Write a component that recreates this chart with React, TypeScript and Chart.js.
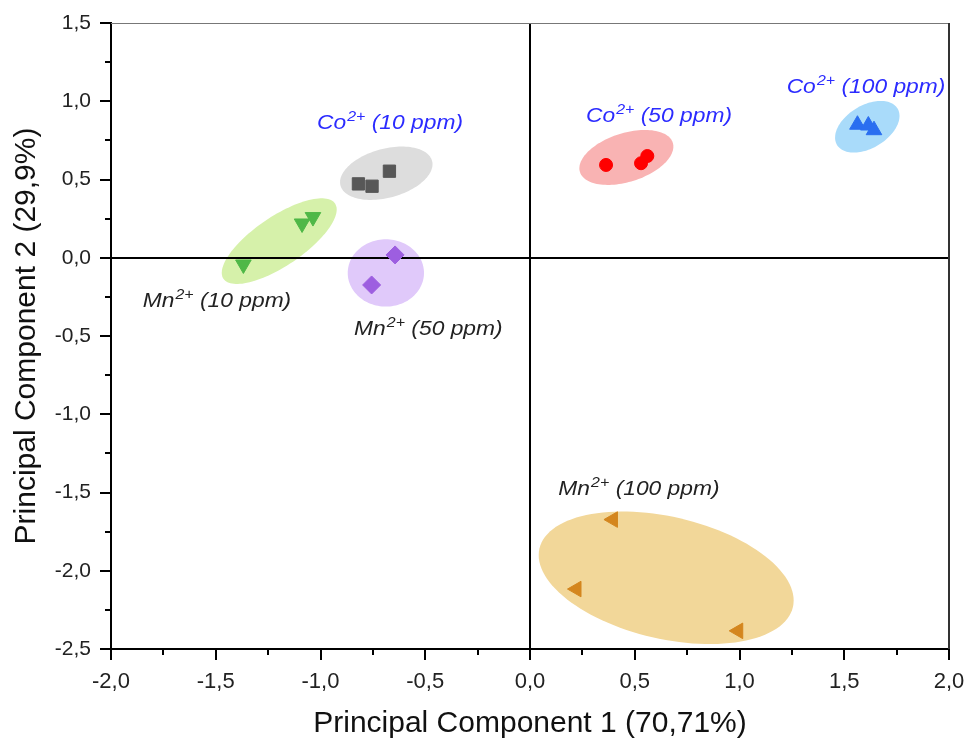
import React, { useEffect, useRef } from 'react';
import { Chart, registerables } from 'chart.js';

Chart.register(...registerables);

const FAMILY = "'Liberation Sans', Arial, sans-serif";

// ---- data (PC1, PC2 scores) ----
const groupNames = ['Co 10 ppm', 'Mn 10 ppm', 'Mn 50 ppm', 'Co 50 ppm', 'Co 100 ppm', 'Mn 100 ppm'];

const co10X = [-0.819, -0.754, -0.671];
const co10Y = [0.472, 0.457, 0.553];
const mn10X = [-1.368, -1.088, -1.036];
const mn10Y = [-0.043, 0.219, 0.26];
const mn50X = [-0.644, -0.756];
const mn50Y = [0.018, -0.174];
const co50X = [0.363, 0.53, 0.56];
const co50Y = [0.593, 0.604, 0.65];
const co100X = [1.563, 1.615, 1.642];
const co100Y = [0.85, 0.845, 0.815];
const mn100X = [0.396, 0.222, 0.994];
const mn100Y = [-1.673, -2.117, -2.384];

// confidence ellipses: centre and two semi-axis vectors, in data units
const ellCenterX = [-0.686, -1.197, -0.688, 0.46, 1.61, 0.65];
const ellCenterY = [0.54, 0.106, -0.097, 0.641, 0.837, -2.045];
const ellAxis1X = [0.2186, 0.2663, 0.182, 0.2216, 0.1445, 0.605];
const ellAxis1Y = [0.0786, 0.2404, 0, 0.0935, 0.1162, -0.187];
const ellAxis2X = [0.0302, 0.0659, 0, 0.035, 0.0526, -0.0656];
const ellAxis2Y = [-0.1513, -0.1308, -0.215, -0.1487, -0.1172, -0.38];

// annotation labels
const labelIon = ['Co', 'Mn', 'Mn', 'Co', 'Co', 'Mn'];
const labelCharge = ['2+', '2+', '2+', '2+', '2+', '2+'];
const labelConc = [' (10 ppm)', ' (10 ppm)', ' (50 ppm)', ' (50 ppm)', ' (100 ppm)', ' (100 ppm)'];
const labelX = [-1.017, -1.849, -0.84, 0.267, 1.225, 0.135];
const labelY = [0.823, -0.315, -0.494, 0.869, 1.051, -1.516];

// axes
const xMin = -2.0;
const xMax = 2.0;
const yMin = -2.5;
const yMax = 1.5;
const tickStep = 0.5;
const xTitle = 'Principal Component 1 (70,71%)';
const yTitle = 'Principal Component 2 (29,9%)';

// styles
const markerColors = ['#575757', '#4fb847', '#9d5ee0', '#ff0000', '#2a6ef0', '#d4861e'];
const ellipseColors = ['#dddddd', '#d6f1aa', '#e0c9fa', '#f9b3b3', '#a9dbfa', '#f2d799'];
const labelColors = ['#2b2bff', '#222222', '#222222', '#2b2bff', '#2b2bff', '#222222'];
const markerStyles = ['rect', 'triangle', 'rectRot', 'circle', 'triangle', 'triangle'];
const markerRotations = [0, 180, 0, 0, 0, 270];
const markerRadii = [8.7, 9, 9, 6.5, 9, 9];

const xs = [co10X, mn10X, mn50X, co50X, co100X, mn100X];
const ys = [co10Y, mn10Y, mn50Y, co50Y, co100Y, mn100Y];

const fmt = (v: number) => Number(v).toFixed(1).replace('.', ',');

const decorPlugin = {
  id: 'decor',
  beforeDatasetsDraw(chart: any) {
    const { ctx, chartArea } = chart;
    const sx = chart.scales.x;
    const sy = chart.scales.y;
    ctx.save();
    // ellipses
    for (let i = 0; i < ellCenterX.length; i++) {
      ctx.beginPath();
      const n = 120;
      for (let k = 0; k <= n; k++) {
        const t = (k / n) * Math.PI * 2;
        const dx = ellCenterX[i] + ellAxis1X[i] * Math.cos(t) + ellAxis2X[i] * Math.sin(t);
        const dy = ellCenterY[i] + ellAxis1Y[i] * Math.cos(t) + ellAxis2Y[i] * Math.sin(t);
        const px = sx.getPixelForValue(dx);
        const py = sy.getPixelForValue(dy);
        if (k === 0) ctx.moveTo(px, py);
        else ctx.lineTo(px, py);
      }
      ctx.closePath();
      ctx.fillStyle = ellipseColors[i];
      ctx.fill();
    }
    // zero lines
    ctx.strokeStyle = '#000';
    ctx.lineWidth = 2;
    const x0 = Math.round(sx.getPixelForValue(0));
    const y0 = Math.round(sy.getPixelForValue(0));
    ctx.beginPath();
    ctx.moveTo(x0, chartArea.top);
    ctx.lineTo(x0, chartArea.bottom);
    ctx.moveTo(chartArea.left, y0);
    ctx.lineTo(chartArea.right, y0);
    ctx.stroke();
    ctx.restore();
  },
  afterDraw(chart: any) {
    const { ctx, chartArea } = chart;
    const sx = chart.scales.x;
    const sy = chart.scales.y;
    ctx.save();
    // top and right frame
    ctx.strokeStyle = '#777';
    ctx.lineWidth = 1;
    ctx.beginPath();
    ctx.moveTo(chartArea.left, chartArea.top + 0.5);
    ctx.lineTo(chartArea.right, chartArea.top + 0.5);
    ctx.stroke();
    ctx.strokeStyle = '#333';
    ctx.lineWidth = 2;
    ctx.beginPath();
    ctx.moveTo(chartArea.right, chartArea.top);
    ctx.lineTo(chartArea.right, chartArea.bottom);
    ctx.stroke();

    // tick marks (major + minor)
    ctx.strokeStyle = '#000';
    ctx.lineWidth = 2;
    const xt = sx.ticks.map((t: any) => t.value);
    const yt = sy.ticks.map((t: any) => t.value);
    ctx.beginPath();
    xt.forEach((v: number, i: number) => {
      const p = Math.round(sx.getPixelForValue(v));
      ctx.moveTo(p, chartArea.bottom);
      ctx.lineTo(p, chartArea.bottom + 11);
      if (i < xt.length - 1) {
        const m = Math.round(sx.getPixelForValue((v + xt[i + 1]) / 2));
        ctx.moveTo(m, chartArea.bottom);
        ctx.lineTo(m, chartArea.bottom + 6);
      }
    });
    yt.forEach((v: number, i: number) => {
      const p = Math.round(sy.getPixelForValue(v));
      ctx.moveTo(chartArea.left, p);
      ctx.lineTo(chartArea.left - 11, p);
      if (i < yt.length - 1) {
        const m = Math.round(sy.getPixelForValue((v + yt[i + 1]) / 2));
        ctx.moveTo(chartArea.left, m);
        ctx.lineTo(chartArea.left - 6, m);
      }
    });
    ctx.stroke();

    // labels
    const SX = 1.14;
    for (let i = 0; i < labelIon.length; i++) {
      const px = sx.getPixelForValue(labelX[i]);
      const py = sy.getPixelForValue(labelY[i]);
      ctx.save();
      ctx.translate(px, py);
      ctx.scale(SX, 1);
      ctx.fillStyle = labelColors[i];
      ctx.textAlign = 'left';
      ctx.textBaseline = 'alphabetic';
      ctx.font = `italic 20px ${FAMILY}`;
      ctx.fillText(labelIon[i], 0, 0);
      let x = ctx.measureText(labelIon[i]).width + 1;
      ctx.font = `italic 14px ${FAMILY}`;
      ctx.fillText(labelCharge[i], x, -8);
      x += ctx.measureText(labelCharge[i]).width;
      ctx.font = `italic 20px ${FAMILY}`;
      ctx.fillText(labelConc[i], x, 0);
      ctx.restore();
    }
    ctx.restore();
  },
};

export default function App() {
  const ref = useRef<HTMLCanvasElement>(null);
  useEffect(() => {
    if (!ref.current) return;
    Chart.defaults.font.family = FAMILY;
    const datasets = groupNames.map((name, i) => ({
      label: name,
      data: xs[i].map((x, k) => ({ x, y: ys[i][k] })),
      backgroundColor: markerColors[i],
      borderColor: markerColors[i],
      borderWidth: 1,
      pointStyle: markerStyles[i],
      rotation: markerRotations[i],
      pointRadius: markerRadii[i],
      pointHoverRadius: markerRadii[i],
    }));
    const chart = new Chart(ref.current, {
      type: 'scatter',
      data: { datasets } as any,
      options: {
        animation: false,
        responsive: false,
        layout: { padding: { top: 23, right: 22, bottom: 0, left: 0 } },
        plugins: { legend: { display: false }, tooltip: { enabled: false } },
        scales: {
          x: {
            type: 'linear',
            min: xMin,
            max: xMax,
            afterFit: (s: any) => { s.height = 90; },
            ticks: {
              stepSize: tickStep,
              callback: (v: any) => fmt(v),
              font: { size: 22 },
              color: '#222',
              padding: 0,
              maxRotation: 0,
              autoSkip: false,
            },
            grid: { display: false, drawTicks: true, tickLength: 20 },
            border: { display: true, color: '#000', width: 2 },
            title: {
              display: true,
              text: xTitle,
              font: { size: 30, lineHeight: 1 },
              color: '#111',
              padding: { top: 0, bottom: 0 },
            },
          },
          y: {
            type: 'linear',
            min: yMin,
            max: yMax,
            afterFit: (s: any) => { s.width = 111; },
            ticks: {
              stepSize: tickStep,
              callback: (v: any) => fmt(v),
              font: { size: 21 },
              color: '#222',
              padding: 0,
              autoSkip: false,
            },
            grid: { display: false, drawTicks: true, tickLength: 20 },
            border: { display: true, color: '#000', width: 2 },
            title: {
              display: true,
              text: yTitle,
              font: { size: 30, lineHeight: 1 },
              color: '#111',
              padding: { top: 12, bottom: 0 },
            },
          },
        },
      } as any,
      plugins: [decorPlugin],
    });
    return () => chart.destroy();
  }, []);
  return (
    <div style={{ position: 'absolute', left: 0, top: 0, width: 971, height: 739, background: '#fff' }}>
      <canvas ref={ref} width={971} height={739} />
    </div>
  );
}
